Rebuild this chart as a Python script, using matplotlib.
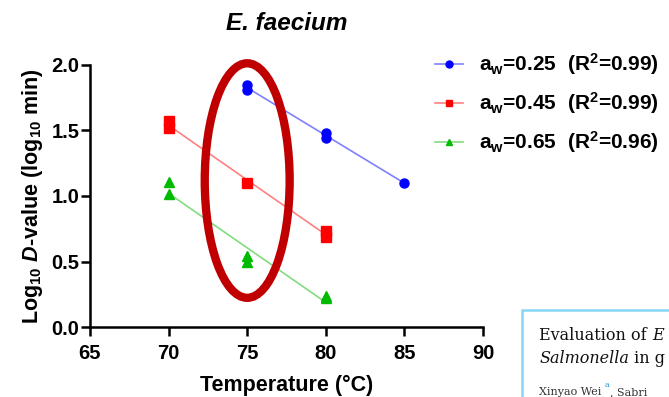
"""E. faecium 熱死滅 D値 vs 温度 のプロット再現。"""
import matplotlib
matplotlib.use("Agg")
import matplotlib.pyplot as plt
import numpy as np
from matplotlib.patches import Ellipse, Rectangle

plt.rcParams["font.family"] = ["Liberation Sans", "DejaVu Sans"]
plt.rcParams["font.weight"] = "bold"
plt.rcParams["mathtext.fontset"] = "custom"
plt.rcParams["mathtext.rm"] = "Liberation Sans:bold"
plt.rcParams["mathtext.bf"] = "Liberation Sans:bold"
plt.rcParams["mathtext.it"] = "Liberation Sans:italic:bold"
plt.rcParams["mathtext.bfit"] = "Liberation Sans:italic:bold"

# データ
temp_025 = [75, 75, 80, 80, 85]
logd_025 = [1.845, 1.81, 1.48, 1.44, 1.10]
temp_045 = [70, 70, 75, 80, 80]
logd_045 = [1.57, 1.52, 1.10, 0.73, 0.69]
temp_065 = [70, 70, 75, 75, 80, 80]
logd_065 = [1.11, 1.015, 0.54, 0.50, 0.24, 0.22]

labels = [r"$\mathbf{a_w}$=0.25  ($\mathbf{R^2}$=0.99)",
          r"$\mathbf{a_w}$=0.45  ($\mathbf{R^2}$=0.99)",
          r"$\mathbf{a_w}$=0.65  ($\mathbf{R^2}$=0.96)"]

series = [
    (temp_025, logd_025, "#0000ff", "#8080ff", "o", 6.5),
    (temp_045, logd_045, "#ff0000", "#ff8080", "s", 6.5),
    (temp_065, logd_065, "#00bb00", "#80dd80", "^", 6.5),
]

fig = plt.figure(figsize=(6.69, 3.97), dpi=100)
ax = fig.add_axes([0.1345, 0.1763, 0.5875, 0.66])

handles = []
for (t, d, mc, lc, mk, ms), lab in zip(series, labels):
    t = np.asarray(t, dtype=float)
    d = np.asarray(d, dtype=float)
    slope, icpt = np.polyfit(t, d, 1)
    xs = np.array([t.min(), t.max()])
    ax.plot(xs, slope * xs + icpt, color=lc, lw=1.2, zorder=2)
    ax.plot(t, d, ls="none", marker=mk, ms=ms, color=mc, mec=mc, zorder=3)
    h, = ax.plot([], [], color=lc, lw=1.2, marker=mk, ms=5, mfc=mc, mec=mc)
    handles.append(h)

ax.set_xlim(65, 90)
ax.set_ylim(0, 2.0)
ax.set_xticks([65, 70, 75, 80, 85, 90])
ax.set_yticks([0.0, 0.5, 1.0, 1.5, 2.0])
ax.set_yticklabels(["0.0", "0.5", "1.0", "1.5", "2.0"])
for s in ["top", "right"]:
    ax.spines[s].set_visible(False)
for s in ["left", "bottom"]:
    ax.spines[s].set_linewidth(1.8)
ax.tick_params(direction="out", length=6.5, width=1.8, labelsize=14.5)
ax.tick_params(axis="x", pad=6)
ax.tick_params(axis="y", pad=1)
for lbl in ax.get_xticklabels() + ax.get_yticklabels():
    lbl.set_fontweight("bold")

ax.set_xlabel("Temperature (°C)", fontsize=15.5, fontweight="bold", labelpad=8)
ax.set_ylabel(r"Log$_{10}$ $\mathbfit{D}$-value (log$_{10}$ min)",
              fontsize=15.5, fontweight="bold", labelpad=5)
ax.set_title("E. faecium", fontsize=17.5, fontweight="bold", style="italic", pad=25)

fig.legend(handles, labels, loc="upper left", bbox_to_anchor=(0.638, 0.892),
           frameon=False, fontsize=15, labelspacing=0.63, handlelength=1.35,
           handletextpad=0.75, borderaxespad=0)

# 注釈の赤い楕円
ax.add_patch(Ellipse((75, 1.118), 5.4, 1.79, fill=False, ec="#c00000",
                     lw=6, clip_on=False, zorder=5))

# 右下に重なる論文スニペット
fig.patches.append(Rectangle((0.781, -0.05), 0.3, 0.27, transform=fig.transFigure,
                             fc="white", ec="#88d6f6", lw=1.8, zorder=6))


def put_run(x, y, parts):
    """(文字列, スタイル, 色, サイズ, y方向のずれ) を左から順に並べる。"""
    fig.canvas.draw()
    r = fig.canvas.get_renderer()
    for s, st, col, size, dy in parts:
        t = fig.text(x, y + dy, s, family="DejaVu Serif", fontsize=size,
                     fontweight="normal", style=st, color=col, zorder=7)
        bb = t.get_window_extent(r)
        x += bb.width / fig.bbox.width


put_run(0.806, 0.143, [("Evaluation of ", "normal", "#111111", 11.5, 0),
                       ("E", "italic", "#111111", 11.5, 0)])
put_run(0.806, 0.086, [("Salmonella", "italic", "#111111", 11.5, 0),
                       (" in g", "normal", "#111111", 11.5, 0)])
put_run(0.806, 0.004, [("Xinyao Wei ", "normal", "#333333", 8, 0),
                       ("a", "normal", "#2a9ad8", 6, 0.02),
                       (", Sabri", "normal", "#333333", 8, 0)])

fig.savefig("out.png", dpi=100)
